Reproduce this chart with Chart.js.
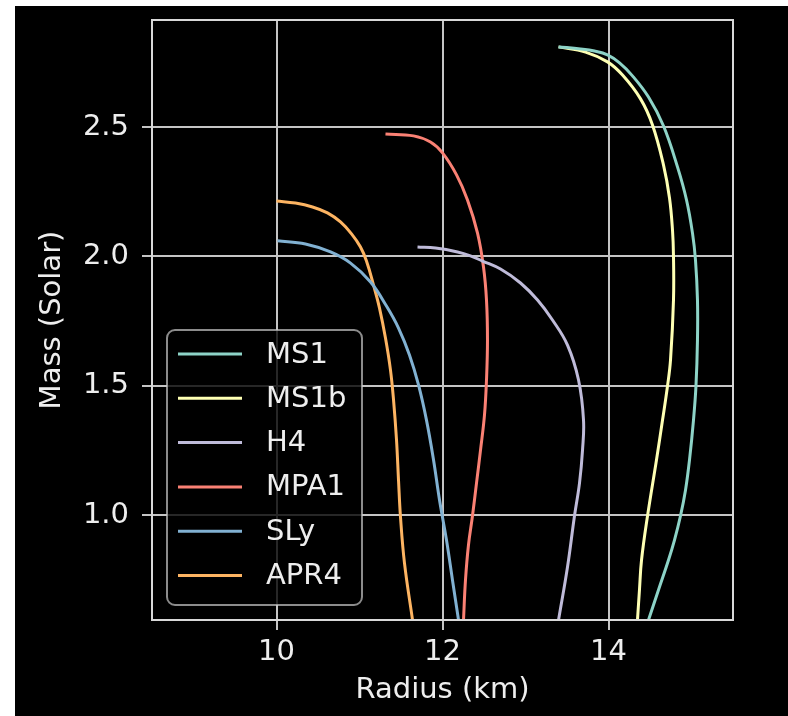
<!DOCTYPE html>
<html>
<head>
<meta charset="utf-8">
<script src="https://cdn.jsdelivr.net/npm/chart.js@4/dist/chart.umd.min.js"></script>
<style>
  body { margin: 0; background: #fff; }
  #wrap { position: absolute; left: 15px; top: 6px; width: 773px; height: 710px; background: #000; }
</style>
</head>
<body>
<div id="wrap"><canvas id="mrChart"></canvas></div>
<script>
// equations of state, matplotlib dark_background colour cycle
const eosNames = ['MS1', 'MS1b', 'H4', 'MPA1', 'SLy', 'APR4'];
const eosColors = ['#8dd3c7', '#feffb3', '#bfbbd9', '#fa8174', '#81b1d2', '#fdb462'];

// radius (km) / mass (solar)
const ms1Radius = [13.398, 13.663, 13.831, 13.988, 14.133, 14.289, 14.482, 14.663, 14.831, 14.940, 15.012, 15.048, 15.072, 15.072, 15.054, 15.024, 14.976, 14.928, 14.867, 14.795, 14.723, 14.602, 14.482];
const ms1Mass   = [2.810, 2.802, 2.794, 2.779, 2.748, 2.698, 2.616, 2.504, 2.346, 2.218, 2.090, 1.986, 1.831, 1.677, 1.499, 1.367, 1.213, 1.097, 0.996, 0.903, 0.826, 0.710, 0.594];

const ms1bRadius = [13.398, 13.723, 13.988, 14.169, 14.386, 14.530, 14.663, 14.735, 14.771, 14.783, 14.783, 14.747, 14.711, 14.651, 14.578, 14.470, 14.398, 14.373, 14.349];
const ms1bMass   = [2.810, 2.790, 2.752, 2.701, 2.609, 2.508, 2.353, 2.226, 2.102, 2.002, 1.831, 1.599, 1.499, 1.367, 1.213, 0.996, 0.826, 0.710, 0.594];

const h4Radius = [11.699, 11.916, 12.181, 12.337, 12.482, 12.699, 12.940, 13.145, 13.325, 13.506, 13.639, 13.699, 13.687, 13.651, 13.590, 13.506, 13.398];
const h4Mass   = [2.036, 2.032, 2.017, 2.002, 1.982, 1.951, 1.897, 1.831, 1.754, 1.657, 1.522, 1.367, 1.251, 1.124, 0.996, 0.799, 0.594];

const mpa1Radius = [11.313, 11.651, 11.855, 12.000, 12.169, 12.301, 12.422, 12.494, 12.530, 12.542, 12.530, 12.506, 12.458, 12.410, 12.361, 12.313, 12.277, 12.253];
const mpa1Mass   = [2.473, 2.466, 2.442, 2.400, 2.315, 2.218, 2.090, 1.959, 1.831, 1.677, 1.522, 1.387, 1.251, 1.124, 0.996, 0.884, 0.749, 0.594];

const slyRadius = [10.012, 10.349, 10.651, 10.892, 11.133, 11.325, 11.470, 11.602, 11.711, 11.807, 11.892, 11.964, 12.048, 12.120, 12.193];
const slyMass   = [2.060, 2.048, 2.017, 1.974, 1.901, 1.808, 1.723, 1.619, 1.503, 1.367, 1.213, 1.058, 0.903, 0.749, 0.594];

const apr4Radius = [10.000, 10.229, 10.434, 10.614, 10.771, 10.904, 11.012, 11.084, 11.169, 11.241, 11.313, 11.373, 11.410, 11.446, 11.470, 11.494, 11.542, 11.639];
const apr4Mass   = [2.214, 2.206, 2.191, 2.168, 2.133, 2.087, 2.036, 1.982, 1.889, 1.800, 1.684, 1.561, 1.445, 1.290, 1.135, 0.992, 0.814, 0.594];

const xTicks = [10, 12, 14];
const yTicks = [1.0, 1.5, 2.0, 2.5];

const radiusSets = [ms1Radius, ms1bRadius, h4Radius, mpa1Radius, slyRadius, apr4Radius];
const massSets = [ms1Mass, ms1bMass, h4Mass, mpa1Mass, slyMass, apr4Mass];

const textColor = '#eeeeee';
const gridColor = '#c4c4c4';
Chart.defaults.font.family = '"DejaVu Sans", sans-serif';
Chart.defaults.font.size = 29;
Chart.defaults.color = textColor;

// top/right spines + box around plot
const frame = {
  id: 'frame',
  afterDatasetsDraw(chart) {
    const {ctx, chartArea: a} = chart;
    ctx.save();
    ctx.strokeStyle = '#d8d8d8';
    ctx.lineWidth = 2;
    ctx.strokeRect(a.left, a.top, a.right - a.left, a.bottom - a.top);
    ctx.restore();
  }
};

// matplotlib style legend, lower left inside the axes
const mplLegend = {
  id: 'mplLegend',
  afterDraw(chart) {
    const {ctx, chartArea: a} = chart;
    const w = 195, h = 275;
    const x0 = a.left + 15, y0 = a.bottom - 15 - h;
    ctx.save();
    ctx.beginPath();
    ctx.roundRect(x0, y0, w, h, 8);
    ctx.fillStyle = 'rgba(0,0,0,0.8)';
    ctx.fill();
    ctx.strokeStyle = 'rgba(200,200,200,0.7)';
    ctx.lineWidth = 2;
    ctx.stroke();
    ctx.font = '29px "DejaVu Sans", sans-serif';
    ctx.textBaseline = 'middle';
    chart.data.datasets.forEach((ds, i) => {
      const cy = y0 + 24 + i * 44.3;
      ctx.strokeStyle = ds.borderColor;
      ctx.lineWidth = 3;
      ctx.beginPath();
      ctx.moveTo(x0 + 11, cy);
      ctx.lineTo(x0 + 75, cy);
      ctx.stroke();
      ctx.fillStyle = textColor;
      ctx.fillText(ds.label, x0 + 99, cy + 1);
    });
    ctx.restore();
  }
};

new Chart(document.getElementById('mrChart'), {
  type: 'scatter',
  data: {
    datasets: eosNames.map((name, i) => ({
      label: name,
      data: radiusSets[i].map((r, j) => ({x: r, y: massSets[i][j]})),
      borderColor: eosColors[i],
      backgroundColor: eosColors[i],
      borderWidth: 3,
      showLine: true,
      pointRadius: 0,
      tension: 0.4,
      fill: false
    }))
  },
  options: {
    responsive: true,
    maintainAspectRatio: false,
    animation: false,
    layout: { padding: { top: 14, right: 55, bottom: 0, left: 0 } },
    plugins: {
      legend: { display: false },
      tooltip: { enabled: false }
    },
    scales: {
      x: {
        type: 'linear',
        min: 8.5,
        max: 15.5,
        afterBuildTicks: s => { s.ticks = xTicks.map(v => ({value: v})); },
        afterFit: s => { s.height = 96; s.paddingLeft = 0; s.paddingRight = 0; },
        ticks: { color: textColor, padding: 5, callback: v => String(v) },
        grid: { color: gridColor, lineWidth: 2, tickLength: 10, tickColor: gridColor, tickWidth: 2 },
        border: { display: false },
        title: { display: true, text: 'Radius (km)', color: textColor, padding: 8 }
      },
      y: {
        type: 'linear',
        min: 0.594,
        max: 2.914,
        afterBuildTicks: s => { s.ticks = yTicks.map(v => ({value: v})); },
        afterFit: s => { s.width = 137; s.paddingTop = 0; s.paddingBottom = 0; },
        ticks: { color: textColor, padding: 13, callback: v => v.toFixed(1) },
        grid: { color: gridColor, lineWidth: 2, tickLength: 10, tickColor: gridColor, tickWidth: 2 },
        border: { display: false },
        title: { display: true, text: 'Mass (Solar)', color: textColor, padding: 20 }
      }
    }
  },
  plugins: [frame, mplLegend]
});
</script>
</body>
</html>
